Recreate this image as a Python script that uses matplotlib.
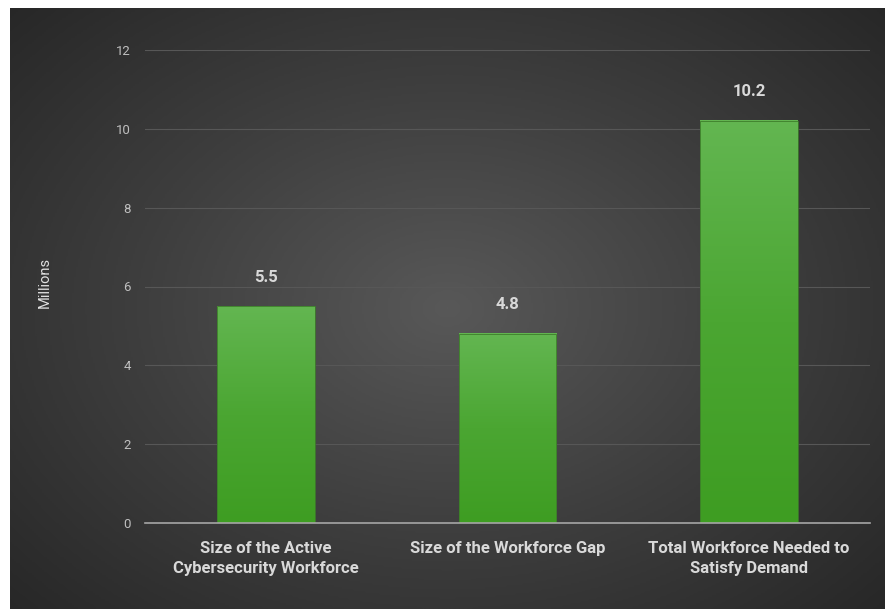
import numpy as np
import matplotlib.pyplot as plt
from matplotlib.colors import LinearSegmentedColormap

categories = ["Size of the Active\nCybersecurity Workforce",
              "Size of the Workforce Gap",
              "Total Workforce Needed to\nSatisfy Demand"]
values = [5.5, 4.8, 10.2]
yticks = [0, 2, 4, 6, 8, 10, 12]

plt.rcParams["font.family"] = ["Roboto", "DejaVu Sans"]

fig = plt.figure(figsize=(8.85, 6.09), dpi=100)
fig.patch.set_facecolor("white")

# dark radial background panel (leaves thin white strip top/left)
bg = fig.add_axes([10 / 885, 0, 1 - 10 / 885, 1 - 8 / 609], zorder=0)
yy, xx = np.mgrid[-1:1:300j, -1:1:440j]
r = np.sqrt((xx * 0.95) ** 2 + (yy * 0.9) ** 2)
bg_cmap = LinearSegmentedColormap.from_list("bg", ["#585858", "#3e3e3e", "#262626"])
bg.imshow(r, cmap=bg_cmap, aspect="auto", extent=[0, 1, 0, 1], vmin=0, vmax=1.35)
bg.axis("off")

ax = fig.add_axes([145 / 885, 1 - 523 / 609, 725 / 885, 473 / 609], zorder=1)
ax.patch.set_alpha(0)

x = np.arange(len(categories))
width = 0.405
bars = ax.bar(x, values, width=width, color="none", edgecolor="#3d7d2a",
              linewidth=0.6, zorder=3)

# vertical green gradient inside each bar
grad = np.linspace(0, 1, 256).reshape(-1, 1)
bar_cmap = LinearSegmentedColormap.from_list("g", ["#3e9d22", "#4ba632", "#63b651"])
for b in bars:
    x0, w, h = b.get_x(), b.get_width(), b.get_height()
    ax.imshow(grad, cmap=bar_cmap, aspect="auto", origin="lower",
              extent=[x0, x0 + w, 0, h], zorder=2)

for xi, v in zip(x, values):
    ax.text(xi, v + 0.55, f"{v:g}", ha="center", va="bottom",
            fontsize=12, fontweight="bold", color="#d9d9d9")

ax.set_xlim(-0.5, 2.5)
ax.set_ylim(0, 12)
ax.set_yticks(yticks)
ax.set_yticklabels([str(t) for t in yticks], fontsize=9.5, color="#bfbfbf")
ax.set_xticks(x)
ax.set_xticklabels(categories, fontsize=12, fontweight="bold", color="#d9d9d9",
                   linespacing=1.45)
ax.tick_params(axis="y", length=0, pad=10)
ax.tick_params(axis="x", length=0, pad=13)
ax.grid(axis="y", color="#575757", linewidth=0.8, zorder=1)
ax.set_axisbelow(True)
for s in ["top", "right", "left"]:
    ax.spines[s].set_visible(False)
ax.spines["bottom"].set_color("#a6a6a6")
ax.spines["bottom"].set_linewidth(1.2)
ax.spines["bottom"].set_zorder(4)

fig.text(45 / 885, 1 - 283 / 609, "Millions", rotation=90, ha="center",
         va="center", fontsize=10.5, color="#e0e0e0")

fig.savefig("out.png", dpi=100)
